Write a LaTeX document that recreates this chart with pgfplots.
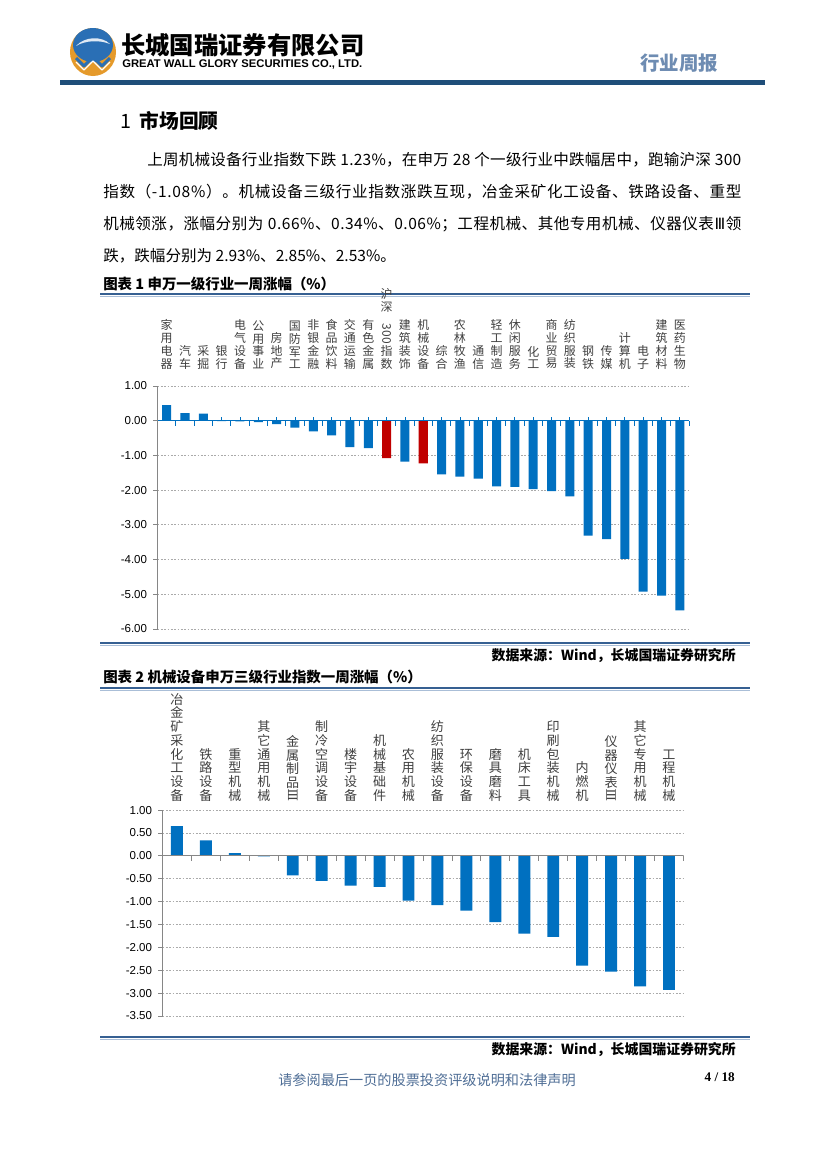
\documentclass[border=0pt]{standalone}
\usepackage{fontspec}
\setmainfont{Noto Sans CJK SC}
\newfontfamily\arial{Liberation Sans}
\newfontfamily\tnr{Liberation Serif}
\newfontfamily\dejavu{DejaVu Sans}
\newfontfamily\dejavuserif{DejaVu Serif}
\usepackage{pgfplots}
\pgfplotsset{compat=1.18}
\makeatletter
\def\spreadit#1{\spA#1\relax}
\def\spA#1{#1\spB}
\def\spB#1{\ifx\relax#1\else\hskip0pt plus 1fil\relax #1\expandafter\spB\fi}
\makeatother
\newcommand\spreadline[2]{\hbox to #1{\spreadit{#2}}}
\definecolor{barblue}{RGB}{0,112,192}
\definecolor{barred}{RGB}{192,0,0}
\definecolor{headblue}{RGB}{31,78,121}
\definecolor{ruleblue}{RGB}{54,96,146}
\definecolor{rulelight}{RGB}{170,190,215}
\definecolor{gridgray}{RGB}{170,170,170}
\definecolor{axisgray}{RGB}{134,134,134}
\definecolor{labgray}{RGB}{64,64,64}
\definecolor{footblue}{RGB}{79,110,150}
\definecolor{hdrblue}{RGB}{110,140,178}
\definecolor{logoblue}{RGB}{42,111,181}
\definecolor{logogold}{RGB}{229,154,43}

\pgfplotstableread{
x y
0 0.45
1 0.22
2 0.20
3 -0.01
4 -0.02
5 -0.04
6 -0.10
7 -0.20
8 -0.31
9 -0.42
10 -0.76
11 -0.79
13 -1.18
15 -1.55
16 -1.61
17 -1.67
18 -1.89
19 -1.91
20 -1.97
21 -2.03
22 -2.18
23 -3.31
24 -3.41
25 -3.98
26 -4.92
27 -5.04
28 -5.46
}\chartAblue
\pgfplotstableread{
x y
12 -1.08
14 -1.23
}\chartAred
\pgfplotstableread{
x y
0 0.65
1 0.34
2 0.06
3 -0.01
4 -0.43
5 -0.55
6 -0.65
7 -0.68
8 -0.98
9 -1.08
10 -1.20
11 -1.45
12 -1.70
13 -1.77
14 -2.40
15 -2.53
16 -2.85
17 -2.93
}\chartB

\begin{document}
\begin{tikzpicture}[x=0.72pt,y=0.72pt]
\useasboundingbox (0,0) rectangle (827,-1169);
\fill[white] (0,0) rectangle (827,-1169);

% ---------- header ----------
\fill[logogold] (93,-52) ellipse [x radius=23, y radius=24];
\fill[logoblue] (93,-45) ellipse [x radius=20, y radius=17];
\fill[white!85!logoblue] (76,-46) .. controls (85,-36) and (102,-36) .. (110,-44) .. controls (100,-40) and (86,-40) .. (76,-46) -- cycle;
\draw[logoblue, line width=2.2pt, line join=round] (76,-58) -- (84,-66) -- (93,-57) -- (102,-66) -- (110,-58);
\draw[white, line width=0.8pt, line join=round] (76,-62) -- (84,-70) -- (93,-61) -- (102,-70) -- (110,-62);
\node[anchor=west, inner sep=0] at (121,-45.5) {\fontsize{17.5pt}{18pt}\selectfont\bfseries 长城国瑞证券有限公司};
\node[anchor=west, inner sep=0] at (122,-64.5) {\resizebox{172.8pt}{5.6pt}{\arial\bfseries GREAT WALL GLORY SECURITIES CO., LTD.}};
\node[anchor=west, inner sep=0, text=hdrblue] at (640,-63) {\fontsize{14pt}{14pt}\selectfont\bfseries 行业周报};
\fill[headblue] (60,-80) rectangle (765,-85);

% ---------- text ----------
\node[anchor=west, inner sep=0] at (120,-121) {\fontsize{14.2pt}{15pt}\selectfont 1\hspace{6pt}\textbf{市场回顾}};
\begin{scope}[every node/.style={anchor=west, inner sep=0, font=\fontsize{11.2pt}{12pt}\selectfont}]
\node at (147,-160) {\spreadline{427.7pt}{上周机械设备行业指数下跌~1.23\%，在申万~28~个一级行业中跌幅居中，跑输沪深~300}};
\node at (103,-192) {\spreadline{459.4pt}{指数（-1.08\%）。机械设备三级行业指数涨跌互现，冶金采矿化工设备、铁路设备、重型}};
\node at (103,-224) {\spreadline{459.4pt}{机械领涨，涨幅分别为~0.66\%、0.34\%、0.06\%；工程机械、其他专用机械、仪器仪表{{\dejavu Ⅲ}}领}};
\node at (103,-256) {跌，跌幅分别为 2.93\%、2.85\%、2.53\%。};
\end{scope}

% ---------- chart 1 frame ----------
\node[anchor=west, inner sep=0] at (103,-284) {\fontsize{10.4pt}{11pt}\selectfont\bfseries 图表 1 申万一级行业一周涨幅（\%）};
\draw[ruleblue, line width=1.7pt] (100,-294) -- (750,-294);
\draw[rulelight, line width=0.6pt] (100,-296.5) -- (750,-296.5);
\draw[ruleblue, line width=1.7pt] (100,-643) -- (750,-643);
\draw[rulelight, line width=0.6pt] (100,-645.5) -- (750,-645.5);
\node[anchor=east, inner sep=0] at (736,-656) {\fontsize{10pt}{11pt}\selectfont\bfseries 数据来源：Wind，长城国瑞证券研究所};

\coordinate (c1) at (157.5,-629);
\begin{axis}[
  at={(c1)}, anchor=south west, scale only axis,
  width=382.7pt, height=175pt,
  xmin=-0.5, xmax=28.5, ymin=-6, ymax=1,
  axis x line*=top, axis y line*=left,
  x axis line style={draw=none},
  xtick={0,...,28},
  xticklabels={{家\\用\\电\\器},{汽\\车},{采\\掘},{银\\行},{电\\气\\设\\备},{公\\用\\事\\业},{房\\地\\产},{国\\防\\军\\工},{非\\银\\金\\融},{食\\品\\饮\\料},{交\\通\\运\\输},{有\\色\\金\\属},{沪\\深\\\rotatebox{-90}{300}\\指\\数},{建\\筑\\装\\饰},{机\\械\\设\\备},{综\\合},{农\\林\\牧\\渔},{通\\信},{轻\\工\\制\\造},{休\\闲\\服\\务},{化\\工},{商\\业\\贸\\易},{纺\\织\\服\\装},{钢\\铁},{传\\媒},{计\\算\\机},{电\\子},{建\\筑\\材\\料},{医\\药\\生\\物}},
  xtick style={draw=none},
  xticklabel style={font=\fontsize{8.6pt}{9.2pt}\selectfont, align=center, text=labgray, anchor=south, inner sep=0pt, yshift=9pt},
  ytick={-6,-5,-4,-3,-2,-1,0,1},
  yticklabel={\pgfmathprintnumber[fixed,fixed zerofill,precision=2,assume math mode=true]{\tick}},
  yticklabel style={font=\arial\fontsize{8.3pt}{10pt}\selectfont, text=black, xshift=-1pt},
  ymajorgrids, grid style={gridgray, dash pattern=on 1.2pt off 1.2pt, line width=0.5pt},
  y axis line style={axisgray, line width=0.6pt},
  ytick style={axisgray, line width=0.6pt},
  tick align=outside, major tick length=3pt,
  clip=false,
]
\addplot[ybar, bar shift=0pt, bar width=6.5pt, fill=barblue, draw=none] table[x=x,y=y] {\chartAblue};
\addplot[ybar, bar shift=0pt, bar width=6.5pt, fill=barred, draw=none] table[x=x,y=y] {\chartAred};
\draw[barblue, line width=0.8pt] (axis cs:-0.5,0) -- (axis cs:28.5,0);
\addplot[only marks, mark=|, mark size=1.8pt, barblue, mark options={yshift=-1.8pt, line width=0.6pt}] coordinates {(0.5,0) (1.5,0) (2.5,0) (3.5,0) (4.5,0) (5.5,0) (6.5,0) (7.5,0) (8.5,0) (9.5,0) (10.5,0) (11.5,0) (12.5,0) (13.5,0) (14.5,0) (15.5,0) (16.5,0) (17.5,0) (18.5,0) (19.5,0) (20.5,0) (21.5,0) (22.5,0) (23.5,0) (24.5,0) (25.5,0) (26.5,0) (27.5,0) (28.5,0)};
\addplot[only marks, mark=|, mark size=1.2pt, barblue, mark options={yshift=1.2pt, line width=0.6pt}] coordinates {(0,0) (1,0) (2,0) (3,0) (4,0) (5,0) (6,0) (7,0) (8,0) (9,0) (10,0) (11,0) (12,0) (13,0) (14,0) (15,0) (16,0) (17,0) (18,0) (19,0) (20,0) (21,0) (22,0) (23,0) (24,0) (25,0) (26,0) (27,0) (28,0)};
\end{axis}

% ---------- chart 2 frame ----------
\node[anchor=west, inner sep=0] at (103,-677) {\fontsize{10.4pt}{11pt}\selectfont\bfseries 图表 2 机械设备申万三级行业指数一周涨幅（\%）};
\draw[ruleblue, line width=1.7pt] (100,-688) -- (750,-688);
\draw[rulelight, line width=0.6pt] (100,-690.5) -- (750,-690.5);
\draw[ruleblue, line width=1.7pt] (100,-1037) -- (750,-1037);
\draw[rulelight, line width=0.6pt] (100,-1039.5) -- (750,-1039.5);
\node[anchor=east, inner sep=0] at (736,-1050) {\fontsize{10pt}{11pt}\selectfont\bfseries 数据来源：Wind，长城国瑞证券研究所};

\coordinate (c2) at (162.5,-1016);
\begin{axis}[
  at={(c2)}, anchor=south west, scale only axis,
  width=375.1pt, height=148.3pt,
  xmin=-0.5, xmax=17.5, ymin=-3.5, ymax=1,
  axis x line*=top, axis y line*=left,
  x axis line style={draw=none},
  xtick={0,...,17},
  xticklabels={{冶\\金\\矿\\采\\化\\工\\设\\备},{铁\\路\\设\\备},{重\\型\\机\\械},{其\\它\\通\\用\\机\\械},{金\\属\\制\\品\\\rotatebox{90}{\dejavuserif Ⅲ}},{制\\冷\\空\\调\\设\\备},{楼\\宇\\设\\备},{机\\械\\基\\础\\件},{农\\用\\机\\械},{纺\\织\\服\\装\\设\\备},{环\\保\\设\\备},{磨\\具\\磨\\料},{机\\床\\工\\具},{印\\刷\\包\\装\\机\\械},{内\\燃\\机},{仪\\器\\仪\\表\\\rotatebox{90}{\dejavuserif Ⅲ}},{其\\它\\专\\用\\机\\械},{工\\程\\机\\械}},
  xtick style={draw=none},
  xticklabel style={font=\fontsize{9.4pt}{9.9pt}\selectfont, align=center, text=labgray, anchor=south, inner sep=0pt, yshift=3pt},
  ytick={-3.5,-3,-2.5,-2,-1.5,-1,-0.5,0,0.5,1},
  yticklabel={\pgfmathprintnumber[fixed,fixed zerofill,precision=2,assume math mode=true]{\tick}},
  yticklabel style={font=\arial\fontsize{8.3pt}{10pt}\selectfont, text=black, xshift=-1pt},
  ymajorgrids, grid style={gridgray, dash pattern=on 1.2pt off 1.2pt, line width=0.5pt},
  y axis line style={axisgray, line width=0.6pt},
  ytick style={axisgray, line width=0.6pt},
  tick align=outside, major tick length=3pt,
  clip=false,
]
\addplot[ybar, bar shift=0pt, bar width=8.6pt, fill=barblue, draw=none] table[x=x,y=y] {\chartB};
\draw[axisgray, line width=0.7pt] (axis cs:-0.5,0) -- (axis cs:17.5,0);
\addplot[only marks, mark=|, mark size=1.8pt, axisgray, mark options={yshift=-1.8pt, line width=0.6pt}] coordinates {(0.5,0) (1.5,0) (2.5,0) (3.5,0) (4.5,0) (5.5,0) (6.5,0) (7.5,0) (8.5,0) (9.5,0) (10.5,0) (11.5,0) (12.5,0) (13.5,0) (14.5,0) (15.5,0) (16.5,0) (17.5,0)};
\end{axis}

% ---------- footer ----------
\node[anchor=west, inner sep=0, text=footblue] at (278,-1080) {\fontsize{10.2pt}{11pt}\selectfont 请参阅最后一页的股票投资评级说明和法律声明};
\node[anchor=east, inner sep=0] at (735,-1077) {\tnr\bfseries\fontsize{9.5pt}{11pt}\selectfont 4 / 18};
\end{tikzpicture}
\end{document}
